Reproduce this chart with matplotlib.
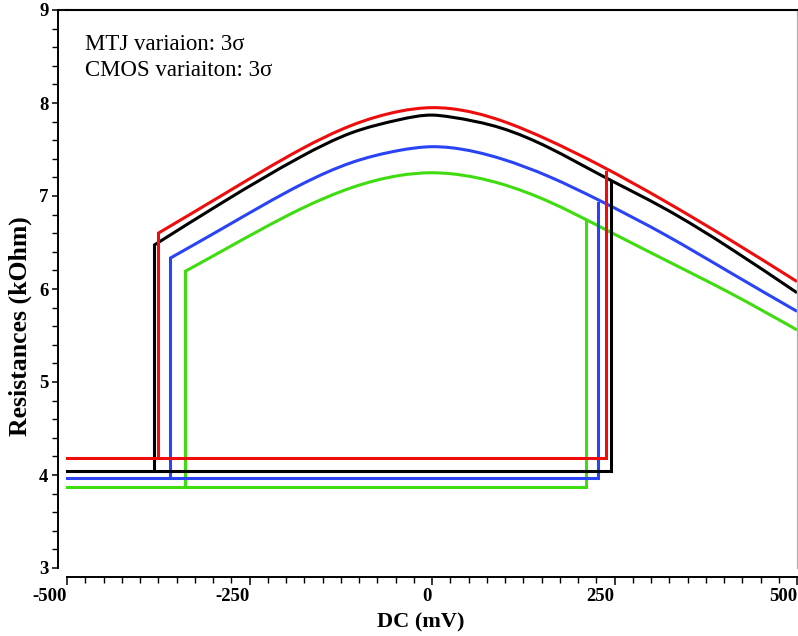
import matplotlib
matplotlib.use("Agg")
import numpy as np
import matplotlib.pyplot as plt
from matplotlib.lines import Line2D
from matplotlib.path import Path
from matplotlib.patches import PathPatch
from matplotlib.ticker import MultipleLocator

plt.rcParams['font.family'] = ['Liberation Serif', 'DejaVu Serif']

# ---- data ----
series_names = ["black", "red", "blue", "green"]
colors = {"black": "#000000", "red": "#ee0d0d", "blue": "#2a44f5", "green": "#3fdc10"}

# low-resistance level (kOhm)
low_level = {"black": 4.04, "red": 4.18, "blue": 3.97, "green": 3.87}
# switching voltages (mV)
v_left = {"black": -381, "red": -375, "blue": -359, "green": -338}
v_right = {"black": 245, "red": 238, "blue": 228, "green": 211}
# top of right-hand switch (kOhm)
r_right_top = {"black": 7.15, "red": 7.26, "blue": 6.93, "green": 6.73}
# high value at left switch
r_left_top = {"black": 6.47, "red": 6.60, "blue": 6.33, "green": 6.19}

# high-resistance branch, sampled voltages (mV)
v_high = [-285, -180, -110, -45, 0, 25, 95, 160, 230, 320, 410, 500]
r_high = {
    "black": [6.94, 7.42, 7.68, 7.82, 7.87, 7.85, 7.73, 7.52, 7.23, 6.86, 6.43, 5.96],
    "red":   [7.02, 7.50, 7.76, 7.91, 7.95, 7.94, 7.81, 7.60, 7.33, 6.94, 6.52, 6.08],
    "blue":  [6.66, 7.12, 7.36, 7.49, 7.53, 7.52, 7.40, 7.21, 6.95, 6.58, 6.17, 5.76],
    "green": [6.42, 6.86, 7.09, 7.22, 7.25, 7.24, 7.13, 6.94, 6.67, 6.31, 5.95, 5.56],
}

x_ticks = [-500, -250, 0, 250, 500]
y_ticks = [3, 4, 5, 6, 7, 8, 9]


def smooth_path(xs, ys):
    """Natural cubic spline through the data points, drawn as Bezier segments."""
    x = np.asarray(xs, float)
    y = np.asarray(ys, float)
    n = len(x)
    h = np.diff(x)
    A = np.zeros((n, n))
    b = np.zeros(n)
    A[0, 0] = 1.0
    A[-1, -1] = 1.0
    for i in range(1, n - 1):
        A[i, i - 1] = h[i - 1]
        A[i, i] = 2 * (h[i - 1] + h[i])
        A[i, i + 1] = h[i]
        b[i] = 6 * ((y[i + 1] - y[i]) / h[i] - (y[i] - y[i - 1]) / h[i - 1])
    M = np.linalg.solve(A, b)
    s = np.zeros(n)
    for i in range(n - 1):
        s[i] = (y[i + 1] - y[i]) / h[i] - h[i] * (2 * M[i] + M[i + 1]) / 6
    s[-1] = (y[-1] - y[-2]) / h[-1] + h[-1] * (M[-2] + 2 * M[-1]) / 6
    verts = [(x[0], y[0])]
    codes = [Path.MOVETO]
    for i in range(n - 1):
        c1 = (x[i] + h[i] / 3.0, y[i] + s[i] * h[i] / 3.0)
        c2 = (x[i + 1] - h[i] / 3.0, y[i + 1] - s[i + 1] * h[i] / 3.0)
        verts += [c1, c2, (x[i + 1], y[i + 1])]
        codes += [Path.CURVE4] * 3
    return Path(verts, codes)


# ---- figure ----
W, H = 798, 636
fig = plt.figure(figsize=(W / 100, H / 100), dpi=100)
ax = fig.add_axes([67 / W, (H - 568) / H, 730 / W, 558 / H])

draw_order = ["green", "blue", "black", "red"]
lw = 2.2
for name in draw_order:
    c = colors[name]
    # low branch with right switch
    ax.plot([-500, v_right[name], v_right[name]],
            [low_level[name], low_level[name], r_right_top[name]],
            color=c, lw=lw, solid_joinstyle='miter', clip_on=False)
    # left switch
    ax.plot([v_left[name], v_left[name]],
            [low_level[name], r_left_top[name]],
            color=c, lw=lw, solid_capstyle='projecting', clip_on=False)
    # smooth high branch
    xs = [v_left[name]] + v_high
    ys = [r_left_top[name]] + r_high[name]
    p = smooth_path(xs, ys)
    ax.add_patch(PathPatch(p, facecolor='none', edgecolor=c, lw=lw,
                           capstyle='butt', clip_on=False))

ax.set_xlim(-500, 500)
ax.set_ylim(3, 9)

ax.spines['left'].set_position(('outward', 6.5))
ax.spines['bottom'].set_position(('outward', 6.5))
ax.spines['left'].set_linewidth(1.4)
ax.spines['bottom'].set_linewidth(1.4)
ax.spines['top'].set_linewidth(1.5)
ax.spines['right'].set_linewidth(0.9)
ax.spines['right'].set_color('#b0b0b0')
# extend the top line to meet the offset left axis
ax.add_line(Line2D([-9 / 730, 0], [1, 1], transform=ax.transAxes, color='black',
                   lw=1.5, clip_on=False))

ax.set_xticks(x_ticks)
ax.set_yticks(y_ticks)
ax.xaxis.set_minor_locator(MultipleLocator(25))
ax.yaxis.set_minor_locator(MultipleLocator(0.2))
ax.tick_params(axis='x', which='major', direction='out', length=5.8, width=1.1, pad=2)
ax.tick_params(axis='x', which='minor', direction='out', length=4.0, width=1.0)
ax.tick_params(axis='y', which='major', direction='out', length=4.3, width=1.1, pad=2.5)
ax.tick_params(axis='y', which='minor', direction='out', length=4.0, width=1.0)
ax.set_xticklabels([str(v) for v in x_ticks], fontsize=13.5, fontweight='bold', ha='right')
ax.set_yticklabels([str(v) for v in y_ticks], fontsize=13.5, fontweight='bold')

ax.set_xlabel("DC (mV)", fontsize=16, fontweight='bold', va='center', ha='center')
ax.set_ylabel("Resistances (kOhm)", fontsize=18.5, fontweight='bold', va='center', ha='center')
ax.xaxis.set_label_coords(0.484, -0.098)
ax.yaxis.set_label_coords(-0.064, 0.434)

ax.text(0.0247, 0.928, "MTJ variaion: 3σ", transform=ax.transAxes, fontsize=16.5,
        ha='left', va='baseline')
ax.text(0.0247, 0.881, "CMOS variaiton: 3σ", transform=ax.transAxes, fontsize=16.5,
        ha='left', va='baseline')

fig.savefig("out.png", dpi=100)
